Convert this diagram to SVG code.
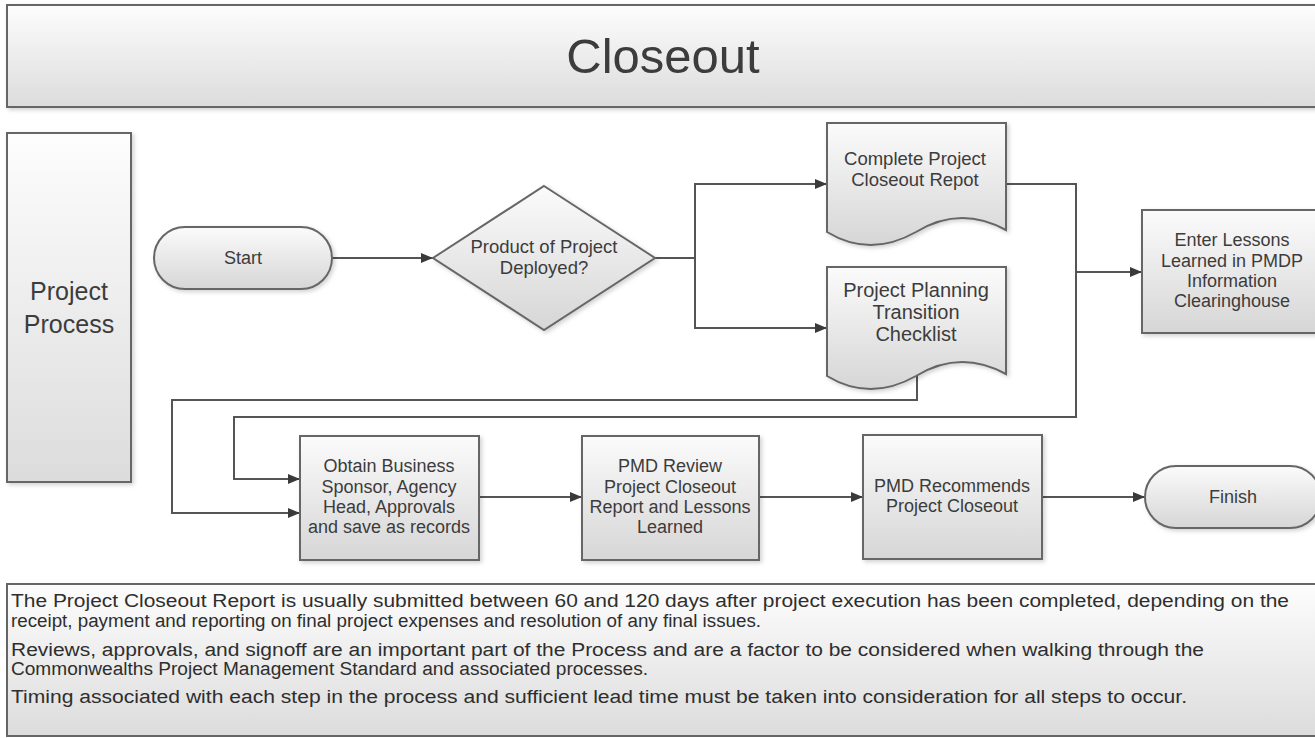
<svg xmlns="http://www.w3.org/2000/svg" width="1315" height="738" viewBox="0 0 1315 738">
<style>
.shape{stroke:#666;stroke-width:2;fill:url(#g)}
.band{stroke:#666;stroke-width:2;fill:url(#gb)}
.t{font-family:"Liberation Sans",Arial,sans-serif;fill:#3c3c3c;text-anchor:middle}
.n{font-size:18px}
.conn path{fill:none;stroke:#555;stroke-width:2;marker-end:url(#arr)}
.note{font-family:"Liberation Sans",Arial,sans-serif;font-size:18px;fill:#2e2e2e}
</style>
<defs>
<linearGradient id="g" x1="0" y1="0" x2="0" y2="1">
<stop offset="0" stop-color="#fbfbfb"/><stop offset="1" stop-color="#d6d6d6"/>
</linearGradient>
<linearGradient id="gb" x1="0" y1="0" x2="0" y2="1">
<stop offset="0" stop-color="#fdfdfd"/><stop offset="1" stop-color="#dcdcdc"/>
</linearGradient>
<filter id="sh" x="-10%" y="-10%" width="130%" height="130%">
<feDropShadow dx="2" dy="2" stdDeviation="2" flood-color="#000" flood-opacity="0.18"/>
</filter>
<marker id="arr" viewBox="0 0 12 10" refX="12" refY="5" markerWidth="12" markerHeight="10" markerUnits="userSpaceOnUse" orient="auto">
<path d="M0,0 L12,5 L0,10 Z" fill="#3a3a3a"/>
</marker>
</defs>
<rect width="1315" height="738" fill="#fff"/>

<g id="title">
<rect class="band" x="7" y="5" width="1320" height="102" filter="url(#sh)"/>
<text class="t" x="663" y="73" font-size="49">Closeout</text>
</g>

<g id="lane">
<rect class="band" x="7" y="133" width="124" height="349" filter="url(#sh)"/>
<text class="t" x="69" y="300" font-size="25">Project</text>
<text class="t" x="69" y="333" font-size="25">Process</text>
</g>

<g class="conn" id="connectors">
<path d="M333,258 H433"/>
<path d="M655,258 H695 V184 H827"/>
<path d="M695,258 V328 H827"/>
<path d="M1006,184 H1076 V417 H234 V479 H300"/>
<path d="M1076,272 H1142"/>
<path d="M917,376 V400 H172 V513 H300"/>
<path d="M479,497 H582"/>
<path d="M759,497 H863"/>
<path d="M1042,497 H1145"/>
</g>

<g id="start">
<rect class="shape" x="154" y="227" width="178" height="62" rx="31" filter="url(#sh)"/>
<text class="t n" x="243" y="264">Start</text>
</g>

<g id="decision">
<polygon class="shape" points="544,186 655,258 544,330 433,258" filter="url(#sh)"/>
<text class="t" x="544" y="253" font-size="18.5">Product of Project</text>
<text class="t" x="544" y="274" font-size="18.5">Deployed?</text>
</g>

<g id="doc-closeout-report">
<path class="shape" d="M827,123 H1006 V230 Q960,205 916,232 Q870,258 827,232 Z" filter="url(#sh)"/>
<text class="t" x="915" y="165" font-size="18.5">Complete Project</text>
<text class="t" x="915" y="186" font-size="18.5">Closeout Repot</text>
</g>

<g id="doc-transition-checklist">
<path class="shape" d="M827,267 H1006 V374 Q960,349 916,376 Q870,402 827,376 Z" filter="url(#sh)"/>
<text class="t" x="916" y="297" font-size="20">Project Planning</text>
<text class="t" x="916" y="319" font-size="20">Transition</text>
<text class="t" x="916" y="341" font-size="20">Checklist</text>
</g>

<g id="lessons">
<rect class="shape" x="1142" y="210" width="180" height="123" filter="url(#sh)"/>
<text class="t n" x="1232" y="246">Enter Lessons</text>
<text class="t n" x="1232" y="267">Learned in PMDP</text>
<text class="t n" x="1232" y="287">Information</text>
<text class="t n" x="1232" y="307">Clearinghouse</text>
</g>

<g id="obtain">
<rect class="shape" x="300" y="436" width="179" height="124" filter="url(#sh)"/>
<text class="t n" x="389" y="472">Obtain Business</text>
<text class="t n" x="389" y="493">Sponsor, Agency</text>
<text class="t n" x="389" y="513">Head, Approvals</text>
<text class="t n" x="389" y="533">and save as records</text>
</g>

<g id="review">
<rect class="shape" x="582" y="436" width="177" height="124" filter="url(#sh)"/>
<text class="t n" x="670" y="472">PMD Review</text>
<text class="t n" x="670" y="493">Project Closeout</text>
<text class="t n" x="670" y="513">Report and Lessons</text>
<text class="t n" x="670" y="533">Learned</text>
</g>

<g id="recommends">
<rect class="shape" x="863" y="435" width="179" height="124" filter="url(#sh)"/>
<text class="t n" x="952" y="492">PMD Recommends</text>
<text class="t n" x="952" y="512">Project Closeout</text>
</g>

<g id="finish">
<rect class="shape" x="1145" y="466" width="176" height="62" rx="31" filter="url(#sh)"/>
<text class="t n" x="1233" y="503">Finish</text>
</g>

<g id="notes">
<rect class="band" x="7" y="584" width="1320" height="152"/>
<text class="note" x="11" y="607" textLength="1278" lengthAdjust="spacingAndGlyphs">The Project Closeout Report is usually submitted between 60 and 120 days after project execution has been completed, depending on the</text>
<text class="note" x="11" y="627" textLength="750" lengthAdjust="spacingAndGlyphs">receipt, payment and reporting on final project expenses and resolution of any final issues.</text>
<text class="note" x="11" y="656" textLength="1193" lengthAdjust="spacingAndGlyphs">Reviews, approvals, and signoff are an important part of the Process and are a factor to be considered when walking through the</text>
<text class="note" x="11" y="675" textLength="637" lengthAdjust="spacingAndGlyphs">Commonwealths Project Management Standard and associated processes.</text>
<text class="note" x="11" y="703" textLength="1176" lengthAdjust="spacingAndGlyphs">Timing associated with each step in the process and sufficient lead time must be taken into consideration for all steps to occur.</text>
</g>
</svg>
